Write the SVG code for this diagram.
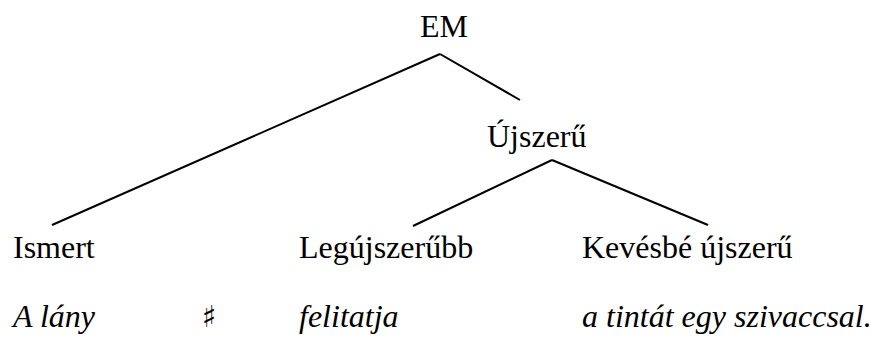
<svg xmlns="http://www.w3.org/2000/svg" width="871" height="340" viewBox="0 0 871 340">
<style>
.edge{stroke:#000;stroke-width:2;fill:none}
</style>
<rect width="871" height="340" fill="#fff"/>
<g id="connectors">
<line class="edge" x1="440" y1="54" x2="52" y2="225"/>
<line class="edge" x1="440" y1="54" x2="520" y2="100"/>
<line class="edge" x1="552" y1="160" x2="413" y2="226"/>
<line class="edge" x1="552" y1="160" x2="708" y2="225"/>
</g>
<g id="n-em"><text x="420" y="37" font-family="Times New Roman" font-size="32">EM</text></g>
<g id="n-ujszeru"><text x="487" y="147" font-family="Times New Roman" font-size="32">Újszerű</text></g>
<g id="n-ismert"><text x="13" y="258" font-family="Times New Roman" font-size="32">Ismert</text></g>
<g id="n-legujszerubb"><text x="299" y="258" font-family="Times New Roman" font-size="32">Legújszerűbb</text></g>
<g id="n-kevesbe"><text x="582" y="258" font-family="Times New Roman" font-size="32">Kevésbé újszerű</text></g>
<g id="words">
<text x="13" y="327" font-family="Times New Roman" font-size="32" font-style="italic">A lány</text>
<text x="202" y="327" font-family="DejaVu Serif" font-size="30" font-style="italic">♯</text>
<text x="299" y="327" font-family="Times New Roman" font-size="32" font-style="italic">felitatja</text>
<text x="582" y="327" font-family="Times New Roman" font-size="32" font-style="italic">a tintát egy szivaccsal.</text>
</g>
</svg>
